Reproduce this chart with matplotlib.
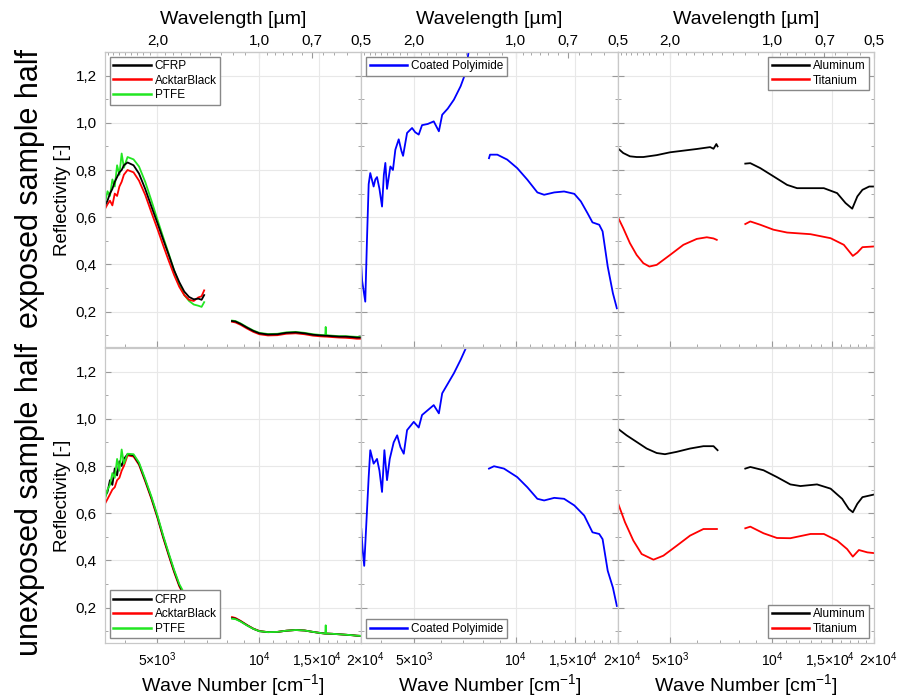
#!/usr/bin/env python
#
# Reflectivity of spacecraft surface samples, exposed vs unexposed halves

import numpy as np
import matplotlib.pyplot as plt
from matplotlib.ticker import FixedLocator, FuncFormatter, NullFormatter
from matplotlib.transforms import ScaledTranslation

plt.rcParams['font.family'] = ['Liberation Sans', 'DejaVu Sans']
plt.rcParams['mathtext.fontset'] = 'custom'
plt.rcParams['mathtext.rm'] = 'Liberation Sans'
plt.rcParams['mathtext.it'] = 'Liberation Sans:italic'
plt.rcParams['mathtext.bf'] = 'Liberation Sans:bold'

# ---- column 1: CFRP / AcktarBlack / PTFE ----
wn1 = [3500, 3560, 3620, 3680, 3740, 3800, 3860, 3920, 3980, 4080, 4250, 4410,
       4600, 4800, 5000, 5200, 5400, 5600, 5800, 6000, 6200, 6400, 6600, 6750, 6870]
wn2 = [8300, 8500, 8800, 9200, 9600, 10000, 10600, 11300, 12000, 12800, 13600,
       14400, 15200, 15650, 15700, 15750, 16400, 17200, 18000, 18800, 19400, 20000]

cfrp_exp_1 = [0.65, 0.67, 0.70, 0.72, 0.75, 0.77, 0.79, 0.80, 0.82, 0.832, 0.82, 0.785,
              0.72, 0.645, 0.575, 0.505, 0.44, 0.375, 0.325, 0.285, 0.262, 0.252, 0.255, 0.25, 0.27]
ackt_exp_1 = [0.635, 0.655, 0.67, 0.65, 0.70, 0.69, 0.73, 0.75, 0.78, 0.80, 0.79, 0.755,
              0.695, 0.62, 0.55, 0.48, 0.415, 0.355, 0.305, 0.27, 0.25, 0.245, 0.26, 0.265, 0.29]
ptfe_exp_1 = [0.66, 0.71, 0.69, 0.76, 0.73, 0.82, 0.78, 0.87, 0.81, 0.855, 0.845, 0.815,
              0.75, 0.67, 0.59, 0.515, 0.445, 0.375, 0.315, 0.27, 0.245, 0.23, 0.225, 0.22, 0.24]
cfrp_exp_2 = [0.16, 0.158, 0.148, 0.132, 0.118, 0.108, 0.103, 0.104, 0.11, 0.112, 0.108,
              0.102, 0.099, 0.098, 0.098, 0.098, 0.096, 0.094, 0.094, 0.092, 0.09, 0.09]
ackt_exp_2 = [0.157, 0.154, 0.144, 0.128, 0.114, 0.104, 0.099, 0.1, 0.106, 0.108, 0.104,
              0.098, 0.095, 0.094, 0.094, 0.094, 0.092, 0.09, 0.089, 0.087, 0.085, 0.085]
ptfe_exp_2 = [0.162, 0.16, 0.15, 0.134, 0.12, 0.11, 0.105, 0.106, 0.112, 0.114, 0.11,
              0.104, 0.101, 0.1, 0.135, 0.1, 0.098, 0.096, 0.096, 0.094, 0.093, 0.092]

cfrp_une_1 = [0.67, 0.69, 0.74, 0.72, 0.79, 0.76, 0.82, 0.80, 0.83, 0.85, 0.845, 0.81,
              0.74, 0.665, 0.585, 0.50, 0.425, 0.355, 0.295, 0.255, 0.235, 0.235, 0.245, 0.25, 0.26]
ackt_une_1 = [0.64, 0.66, 0.68, 0.70, 0.71, 0.74, 0.75, 0.78, 0.80, 0.845, 0.84, 0.805,
              0.735, 0.66, 0.58, 0.495, 0.42, 0.35, 0.29, 0.25, 0.232, 0.232, 0.24, 0.245, 0.255]
ptfe_une_1 = [0.66, 0.70, 0.72, 0.77, 0.75, 0.83, 0.78, 0.87, 0.81, 0.852, 0.85, 0.815,
              0.745, 0.67, 0.59, 0.505, 0.43, 0.36, 0.30, 0.26, 0.24, 0.238, 0.24, 0.245, 0.25]
cfrp_une_2 = [0.155, 0.153, 0.142, 0.125, 0.11, 0.10, 0.096, 0.097, 0.102, 0.105, 0.103,
              0.097, 0.092, 0.09, 0.09, 0.09, 0.089, 0.087, 0.085, 0.083, 0.081, 0.08]
ackt_une_2 = [0.16, 0.156, 0.144, 0.126, 0.111, 0.101, 0.096, 0.097, 0.102, 0.105, 0.103,
              0.097, 0.092, 0.09, 0.09, 0.09, 0.089, 0.087, 0.085, 0.083, 0.081, 0.08]
ptfe_une_2 = [0.153, 0.151, 0.141, 0.124, 0.11, 0.10, 0.096, 0.097, 0.102, 0.105, 0.103,
              0.097, 0.092, 0.09, 0.125, 0.09, 0.089, 0.087, 0.085, 0.083, 0.081, 0.08]

# ---- column 2: Coated Polyimide ----
poly_exp_wn1 = [3500, 3520, 3596, 3637, 3680, 3720, 3806, 3850, 3895, 3960, 4030, 4080,
                4122, 4169, 4265, 4340, 4412, 4514, 4600, 4650, 4778, 4943, 5050, 5172,
                5290, 5500, 5728, 5932, 6067, 6300, 6570, 6877, 7110, 7277]
poly_exp_1 = [0.39, 0.33, 0.242, 0.50, 0.74, 0.787, 0.73, 0.76, 0.77, 0.72, 0.645, 0.78,
              0.83, 0.72, 0.815, 0.80, 0.886, 0.93, 0.88, 0.86, 0.957, 0.978, 0.96, 0.95,
              0.99, 0.995, 1.006, 0.964, 1.034, 1.06, 1.098, 1.155, 1.211, 1.31]
poly_exp_wn2 = [8340, 8400, 8826, 9441, 10105, 10825, 11590, 12135, 13000, 13900, 14900,
                15577, 16300, 16860, 17650, 18060, 18700, 19370, 19900]
poly_exp_2 = [0.85, 0.865, 0.865, 0.844, 0.808, 0.759, 0.705, 0.695, 0.705, 0.709, 0.699,
              0.667, 0.617, 0.578, 0.568, 0.54, 0.391, 0.278, 0.214]

poly_une_wn1 = [3500, 3530, 3570, 3680, 3720, 3806, 3895, 3960, 4030, 4095, 4169, 4247,
                4362, 4467, 4567, 4672, 4778, 5000, 5172, 5290, 5728, 5932, 6067, 6570,
                6877, 7161]
poly_une_1 = [0.533, 0.45, 0.377, 0.753, 0.867, 0.81, 0.83, 0.78, 0.69, 0.867, 0.74, 0.83,
              0.90, 0.93, 0.88, 0.852, 0.952, 0.987, 0.963, 1.016, 1.058, 1.023, 1.108,
              1.193, 1.25, 1.306]
poly_une_wn2 = [8340, 8630, 9235, 10105, 10825, 11590, 12135, 13000, 13900, 14900, 15940,
                16860, 17650, 18060, 18700, 19370, 19900]
poly_une_2 = [0.789, 0.799, 0.789, 0.753, 0.71, 0.661, 0.654, 0.665, 0.661, 0.633, 0.59,
              0.519, 0.512, 0.49, 0.356, 0.285, 0.207]

# ---- column 3: Aluminum / Titanium ----
al_exp_wn1 = [3500, 3636, 3806, 3984, 4170, 4567, 5000, 5475, 5996, 6568, 6720, 6850, 6907]
al_exp_1 = [0.893, 0.872, 0.858, 0.855, 0.855, 0.863, 0.875, 0.882, 0.889, 0.897, 0.89, 0.91, 0.90]
ti_exp_wn1 = [3500, 3636, 3806, 3984, 4170, 4345, 4567, 5000, 5475, 5996, 6420, 6720, 6870]
ti_exp_1 = [0.603, 0.554, 0.49, 0.44, 0.405, 0.391, 0.398, 0.44, 0.483, 0.508, 0.515, 0.51, 0.504]
al_exp_wn2 = [8340, 8630, 9235, 10105, 11080, 11860, 13000, 14230, 15577, 16490, 17260,
              17870, 18500, 19370, 20000]
al_exp_2 = [0.827, 0.829, 0.808, 0.773, 0.737, 0.723, 0.723, 0.723, 0.702, 0.66, 0.636,
            0.688, 0.716, 0.73, 0.73]
ti_exp_wn2 = [8340, 8630, 9235, 10105, 11080, 13000, 14900, 16300, 17330, 17870, 18500, 20000]
ti_exp_2 = [0.571, 0.582, 0.568, 0.547, 0.535, 0.528, 0.511, 0.483, 0.436, 0.45, 0.473, 0.476]

al_une_wn1 = [3500, 3720, 3984, 4265, 4567, 4830, 5230, 5728, 6274, 6720, 6907]
al_une_1 = [0.959, 0.93, 0.902, 0.874, 0.855, 0.85, 0.86, 0.874, 0.884, 0.884, 0.867]
ti_une_wn1 = [3500, 3680, 3895, 4122, 4467, 4778, 5230, 5728, 6274, 6877]
ti_une_1 = [0.647, 0.562, 0.484, 0.427, 0.403, 0.42, 0.462, 0.505, 0.533, 0.533]
al_une_wn2 = [8340, 8630, 9441, 10345, 11330, 12135, 13585, 14900, 16115, 16860, 17330,
              17870, 18500, 20000]
al_une_2 = [0.789, 0.796, 0.782, 0.753, 0.722, 0.715, 0.722, 0.704, 0.661, 0.618, 0.604,
            0.64, 0.668, 0.679]
ti_une_wn2 = [8340, 8630, 9441, 10345, 11330, 13000, 14230, 15577, 16670, 17330, 18060,
              19130, 20000]
ti_une_2 = [0.536, 0.543, 0.515, 0.495, 0.494, 0.512, 0.512, 0.484, 0.448, 0.416, 0.444,
            0.434, 0.431]

xticks = [5000, 10000, 15000, 20000]
xticklabels = [r'$\mathregular{5{\times}10^{3}}$', r'$\mathregular{10^{4}}$',
               r'$\mathregular{1{,}5{\times}10^{4}}$', r'$\mathregular{2{\times}10^{4}}$']
xminor = [4000, 6000, 7000, 8000, 9000, 11000, 12000, 13000, 14000, 16000, 17000, 18000, 19000]
lam_ticks = [2.0, 1.0, 0.7, 0.5]
lam_labels = ['2,0', '1,0', '0,7', '0,5']
lam_minor = [2.8, 2.7, 2.6, 2.5, 2.4, 2.3, 2.2, 2.1, 1.9, 1.8, 1.7, 1.6, 1.5, 1.4, 1.3,
             1.2, 1.1, 0.95, 0.9, 0.85, 0.8, 0.75, 0.65, 0.6, 0.55]

BLACK, RED, GREEN, BLUE = '#000000', '#ff0000', '#22e622', '#0000ff'
GRAYC = '#c8c8c8'

fig = plt.figure(figsize=(8.97, 6.97), dpi=100)
left, pw = 105 / 897, 256.3 / 897
row_bottoms = [1 - 347 / 697, 1 - 643 / 697]
ph = 295 / 697

axes = [[None] * 3 for _ in range(2)]
for r in range(2):
    for c in range(3):
        ax = fig.add_axes([left + c * pw, row_bottoms[r], pw, ph])
        axes[r][c] = ax
        ax.set_xscale('log')
        ax.set_xlim(3500, 20000)
        ax.set_ylim(0.05, 1.3)
        ax.xaxis.set_major_locator(FixedLocator(xticks))
        ax.xaxis.set_minor_locator(FixedLocator(xminor))
        ax.xaxis.set_minor_formatter(NullFormatter())
        ax.set_yticks([0.2, 0.4, 0.6, 0.8, 1.0, 1.2])
        ax.set_yticks(np.arange(0.1, 1.31, 0.2), minor=True)
        ax.yaxis.set_major_formatter(FuncFormatter(lambda v, p: f'{v:.1f}'.replace('.', ',')))
        ax.grid(True, which='major', color='#e8e8e8', lw=0.8)
        ax.set_axisbelow(True)
        for s in ax.spines.values():
            s.set_color(GRAYC)
            s.set_linewidth(0.9)
        ax.tick_params(which='both', direction='in', color='#999999', labelsize=11,
                       right=True, pad=6)
        ax.tick_params(which='major', length=4)
        ax.tick_params(which='minor', length=2.5)
        if r == 1:
            ax.set_xticklabels(xticklabels)
            ax.tick_params(axis='x', labelsize=10, pad=5)
            labs = ax.get_xticklabels()
            labs[2].set_transform(labs[2].get_transform()
                                  + ScaledTranslation(-1.5 / 72, 0, fig.dpi_scale_trans))
            labs[3].set_transform(labs[3].get_transform()
                                  + ScaledTranslation(3 / 72, 0, fig.dpi_scale_trans))
            ax.set_xlabel(r'Wave Number [cm$\mathregular{^{-1}}$]', fontsize=14)
            ax.xaxis.set_label_coords(0.5, -0.1)
        else:
            ax.tick_params(labelbottom=False)
            sec = ax.secondary_xaxis('top', functions=(lambda x: 1e4 / x, lambda x: 1e4 / x))
            sec.set_xticks(lam_ticks)
            sec.set_xticklabels(lam_labels)
            sec.set_xticks(lam_minor, minor=True)
            sec.xaxis.set_minor_formatter(NullFormatter())
            sec.tick_params(which='both', direction='in', color='#999999', labelsize=11, pad=3)
            sec.tick_params(which='major', length=4)
            sec.tick_params(which='minor', length=2.5)
            sec.spines['top'].set_color(GRAYC)
            sec.set_xlabel('Wavelength [µm]', fontsize=14, labelpad=7)
        if c == 0:
            ax.set_ylabel('Reflectivity [-]', fontsize=13.5, labelpad=3)
        else:
            ax.tick_params(labelleft=False)

lw = 1.3
leg_kw = dict(fontsize=8.5, fancybox=False, edgecolor='#888888', framealpha=1,
              handlelength=3.2, borderpad=0.3, labelspacing=0.2, handletextpad=0.3,
              borderaxespad=0.4)

# exposed
ax = axes[0][0]
ax.plot(wn1, ptfe_exp_1, color=GREEN, lw=lw)
ax.plot(wn1, ackt_exp_1, color=RED, lw=lw)
ax.plot(wn1, cfrp_exp_1, color=BLACK, lw=lw)
ax.plot(wn2, ptfe_exp_2, color=GREEN, lw=lw)
ax.plot(wn2, ackt_exp_2, color=RED, lw=lw)
ax.plot(wn2, cfrp_exp_2, color=BLACK, lw=lw)
h = [plt.Line2D([], [], color=col, lw=1.8) for col in (BLACK, RED, GREEN)]
ax.legend(h, ['CFRP', 'AcktarBlack', 'PTFE'], loc='upper left', **leg_kw)

ax = axes[0][1]
ax.plot(poly_exp_wn1, poly_exp_1, color=BLUE, lw=lw)
ax.plot(poly_exp_wn2, poly_exp_2, color=BLUE, lw=lw)
ax.legend([plt.Line2D([], [], color=BLUE, lw=1.8)], ['Coated Polyimide'],
          loc='upper left', **leg_kw)

ax = axes[0][2]
ax.plot(al_exp_wn1, al_exp_1, color=BLACK, lw=lw)
ax.plot(al_exp_wn2, al_exp_2, color=BLACK, lw=lw)
ax.plot(ti_exp_wn1, ti_exp_1, color=RED, lw=lw)
ax.plot(ti_exp_wn2, ti_exp_2, color=RED, lw=lw)
h = [plt.Line2D([], [], color=col, lw=1.8) for col in (BLACK, RED)]
ax.legend(h, ['Aluminum', 'Titanium'], loc='upper right', **leg_kw)

# unexposed
ax = axes[1][0]
ax.plot(wn1, ackt_une_1, color=RED, lw=lw)
ax.plot(wn1, cfrp_une_1, color=BLACK, lw=lw)
ax.plot(wn1, ptfe_une_1, color=GREEN, lw=lw)
ax.plot(wn2, ackt_une_2, color=RED, lw=lw)
ax.plot(wn2, cfrp_une_2, color=BLACK, lw=lw)
ax.plot(wn2, ptfe_une_2, color=GREEN, lw=lw)
h = [plt.Line2D([], [], color=col, lw=1.8) for col in (BLACK, RED, GREEN)]
ax.legend(h, ['CFRP', 'AcktarBlack', 'PTFE'], loc='lower left', **leg_kw)

ax = axes[1][1]
ax.plot(poly_une_wn1, poly_une_1, color=BLUE, lw=lw)
ax.plot(poly_une_wn2, poly_une_2, color=BLUE, lw=lw)
ax.legend([plt.Line2D([], [], color=BLUE, lw=1.8)], ['Coated Polyimide'],
          loc='lower left', **leg_kw)

ax = axes[1][2]
ax.plot(al_une_wn1, al_une_1, color=BLACK, lw=lw)
ax.plot(al_une_wn2, al_une_2, color=BLACK, lw=lw)
ax.plot(ti_une_wn1, ti_une_1, color=RED, lw=lw)
ax.plot(ti_une_wn2, ti_une_2, color=RED, lw=lw)
h = [plt.Line2D([], [], color=col, lw=1.8) for col in (BLACK, RED)]
ax.legend(h, ['Aluminum', 'Titanium'], loc='lower right', **leg_kw)

fig.text(30 / 897, 1 - 188 / 697, 'exposed sample half', rotation=90,
         fontsize=22, ha='center', va='center')
fig.text(30 / 897, 1 - 500 / 697, 'unexposed sample half', rotation=90,
         fontsize=22, ha='center', va='center')

fig.savefig('out.png', dpi=100)
